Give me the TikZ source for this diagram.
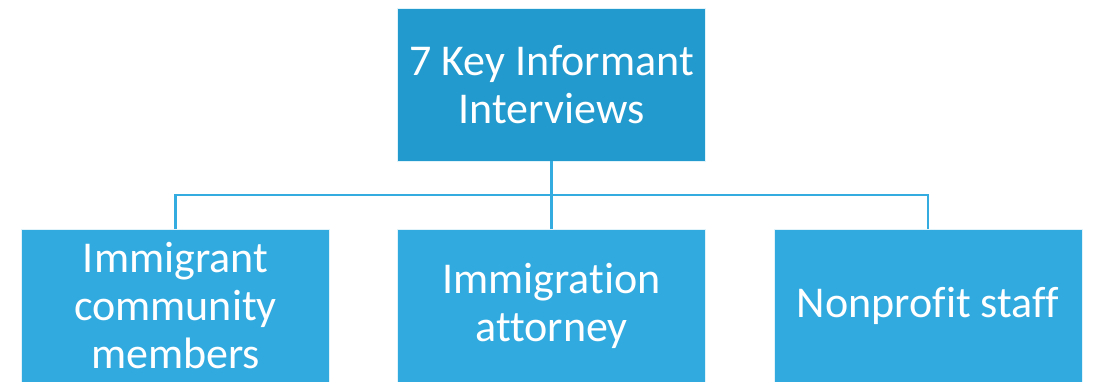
\documentclass[tikz,border=0pt]{standalone}
\usepackage{fontspec}
\setmainfont{Carlito}[Ligatures={NoCommon}]
\definecolor{topblue}{HTML}{229ACD}
\definecolor{boxblue}{HTML}{31AAE0}
\definecolor{lineblue}{HTML}{35ACE0}
\begin{document}
\begin{tikzpicture}[x=1pt,y=-1pt,
  box/.style={draw=white!85!boxblue, line width=0.8pt, fill=boxblue, text=white,
    minimum width=308pt, minimum height=153pt, inner sep=0pt, align=center,
    font=\fontsize{44}{48}\selectfont},
  topbox/.style={box, fill=topblue},
  conn/.style={draw=lineblue, line width=2.6pt}]
\useasboundingbox (0,0) rectangle (1094,381);
\node[topbox] (top) at (551.5,84.5) {7 Key Informant\\Interviews};
\node[box] (left) at (175.5,305.5) {Immigrant\\community\\members};
\node[box] (mid) at (551.5,305.5) {Immigration\\attorney};
\node[box] (right) at (928,305.5) {Nonprofit staff};
\coordinate (hub) at (551.5,195);
\draw[conn] (top.south) -- (hub) -- (mid.north);
\draw[conn] (left.north) |- (hub);
\draw[conn] (right.north) |- (hub);
\end{tikzpicture}
\end{document}
